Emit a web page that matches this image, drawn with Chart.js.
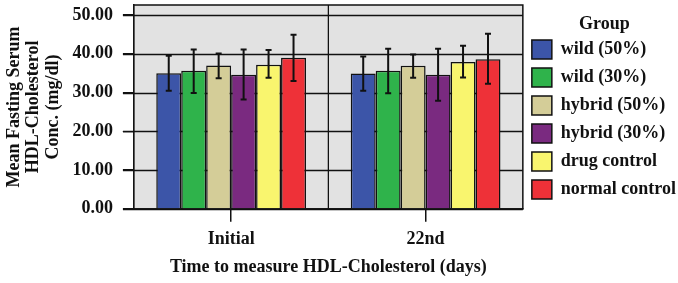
<!DOCTYPE html>
<html>
<head>
<meta charset="utf-8">
<script src="https://cdn.jsdelivr.net/npm/chart.js@4"></script>
<style>
  html, body { margin:0; padding:0; background:#fff; }
  #wrap { width:678px; height:283px; }
</style>
</head>
<body>
<div id="wrap"><canvas id="c"></canvas></div>
<script>
// categories + groups
const days = ['Initial', '22nd'];
const groups = ['wild (50%)', 'wild (30%)', 'hybrid (50%)', 'hybrid (30%)', 'drug control', 'normal control'];
const colors = ['#3c55a8', '#2fb34b', '#d4cd98', '#7a2a80', '#f9f56e', '#ee3138'];

// mean values, one array per group: [Initial, 22nd]
const wild50   = [35.0, 34.9];
const wild30   = [35.6, 35.6];
const hybrid50 = [37.0, 36.9];
const hybrid30 = [34.6, 34.6];
const drugCtl  = [37.2, 37.9];
const normCtl  = [39.0, 38.6];

// error bar ends (low / high)
const wild50Err   = [[30.5, 39.5], [30.5, 39.3]];
const wild30Err   = [[29.9, 41.1], [29.8, 41.3]];
const hybrid50Err = [[33.7, 40.1], [33.8, 39.8]];
const hybrid30Err = [[28.2, 41.1], [27.9, 41.3]];
const drugCtlErr  = [[33.8, 41.0], [33.9, 42.1]];
const normCtlErr  = [[33.0, 44.9], [32.3, 45.2]];

const yTicks = [0, 10, 20, 30, 40, 50];

const means = [wild50, wild30, hybrid50, hybrid30, drugCtl, normCtl];
const errs = [wild50Err, wild30Err, hybrid50Err, hybrid30Err, drugCtlErr, normCtlErr];

const FONT = { family:'"Liberation Serif", "Times New Roman", serif', weight:'bold', size:18 };

// gray panel + frame + divider between the two days
const panel = {
  id:'panel',
  beforeDatasetsDraw(chart){
    const {ctx, chartArea:a} = chart;
    ctx.save();
    ctx.fillStyle = '#e2e2e2';
    ctx.fillRect(a.left, a.top, a.right-a.left, a.bottom-a.top);
    const y = chart.scales.y;
    ctx.strokeStyle = '#111'; ctx.lineWidth = 1.3;
    y.ticks.forEach(t=>{
      const py = Math.round(y.getPixelForValue(t.value))+0.5;
      ctx.beginPath(); ctx.moveTo(a.left-11, py); ctx.lineTo(a.right, py); ctx.stroke();
    });
    const x = chart.scales.x;
    for(let i=0;i<days.length-1;i++){
      const px = (x.getPixelForValue(i)+x.getPixelForValue(i+1))/2;
      ctx.beginPath(); ctx.moveTo(px, a.top); ctx.lineTo(px, a.bottom); ctx.stroke();
    }
    ctx.lineWidth = 1.5;
    ctx.strokeRect(a.left, a.top, a.right-a.left, a.bottom-a.top);
    ctx.restore();
  }
};

const errorBars = {
  id:'errorBars',
  afterDatasetsDraw(chart){
    const {ctx} = chart;
    const y = chart.scales.y;
    ctx.save();
    ctx.strokeStyle = '#111'; ctx.lineWidth = 2;
    chart.data.datasets.forEach((ds, di)=>{
      chart.getDatasetMeta(di).data.forEach((bar, i)=>{
        const [lo, hi] = errs[di][i];
        const yl = y.getPixelForValue(lo), yh = y.getPixelForValue(hi);
        ctx.beginPath();
        ctx.moveTo(bar.x, yl); ctx.lineTo(bar.x, yh);
        ctx.moveTo(bar.x-3, yl); ctx.lineTo(bar.x+3, yl);
        ctx.moveTo(bar.x-3, yh); ctx.lineTo(bar.x+3, yh);
        ctx.stroke();
      });
    });
    ctx.restore();
  }
};

new Chart(document.getElementById('c'), {
  type:'bar',
  data:{
    labels: days,
    datasets: groups.map((g, i)=>({
      label: g,
      data: means[i],
      backgroundColor: colors[i],
      borderColor: '#111',
      borderWidth: 1.5,
      barPercentage: 1,
      categoryPercentage: 0.77
    }))
  },
  options:{
    responsive:true,
    maintainAspectRatio:false,
    animation:false,
    layout:{ padding:{ top:5, left:4, right:-8, bottom:5 } },
    plugins:{
      legend:{
        position:'right',
        align:'start',
        title:{ display:true, text:'Group', color:'#111', font:{...FONT, lineHeight:1}, padding:{top:10, bottom:-2} },
        labels:{ color:'#111', font:FONT, boxWidth:20, boxHeight:19, padding:9 }
      },
      tooltip:{ enabled:false }
    },
    scales:{
      x:{
        grid:{ offset:false, drawOnChartArea:false, color:'#111', lineWidth:1.5, tickLength:13 },
        border:{ color:'#111', width:1.5 },
        ticks:{ color:'#111', font:FONT, padding:7 },
        title:{ display:true, text:'Time to measure HDL-Cholesterol (days)', color:'#111', font:FONT, padding:{top:-1, bottom:0} }
      },
      y:{
        min:0, max:52.6,
        afterBuildTicks(s){ s.ticks = yTicks.map(v=>({value:v})); },
        afterFit(s){ s.paddingTop = 0; s.paddingBottom = 0; },
        grid:{ drawOnChartArea:false, color:'#111', lineWidth:1.3, tickLength:11 },
        border:{ color:'#111', width:1.5 },
        ticks:{ color:'#111', font:FONT, padding:10, callback:v=>v.toFixed(2) },
        title:{ display:true, text:['Mean Fasting Serum','HDL-Cholesterol','Conc. (mg/dl)'], color:'#111',
                font:{...FONT, lineHeight:1.1}, padding:{top:0, bottom:-1} }
      }
    }
  },
  plugins:[panel, errorBars]
});
</script>
</body>
</html>
